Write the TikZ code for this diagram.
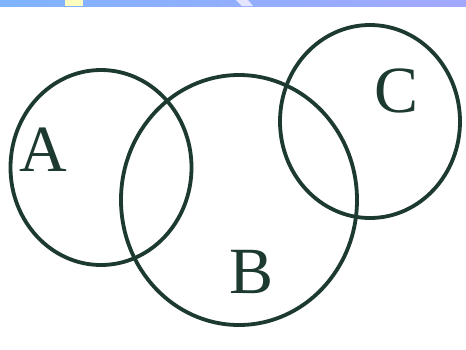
\documentclass[tikz,border=0pt]{standalone}
\usepackage{fontspec}
\setmainfont{Liberation Serif}
\usetikzlibrary{shapes.geometric}
\definecolor{ink}{HTML}{1C3A30}
\definecolor{bandL}{HTML}{80B4FF}
\definecolor{bandR}{HTML}{A3A8FF}
\begin{document}
\begin{tikzpicture}[x=1pt,y=-1pt,
  ring/.style={draw=ink,line width=3.8pt,ellipse,inner sep=0pt},
  lbl/.style={text=ink,font=\fontsize{66}{66}\selectfont,inner sep=0pt}]
\useasboundingbox (0,0) rectangle (466,349);
\fill[white] (0,0) rectangle (466,349);
% top band
\shade[left color=bandL,right color=bandR] (0,0) rectangle (466,6);
\fill[yellow!25] (65,0) rectangle (83,6);
\fill[blue!10] (236,0) -- (248,0) -- (253,6) -- (242,6) -- cycle;
% circles
\node[ring,minimum width=181pt,minimum height=195pt] (A) at (101,167.5) {};
\node[ring,minimum width=236pt,minimum height=250pt] (B) at (239,200) {};
\node[ring,minimum width=180pt,minimum height=193pt] (C) at (370,121.5) {};
% labels
\node[lbl] (la) at (43,150) {A};
\node[lbl] (lb) at (252,272) {B};
\node[lbl] (lc) at (397,91) {C};
\end{tikzpicture}
\end{document}
